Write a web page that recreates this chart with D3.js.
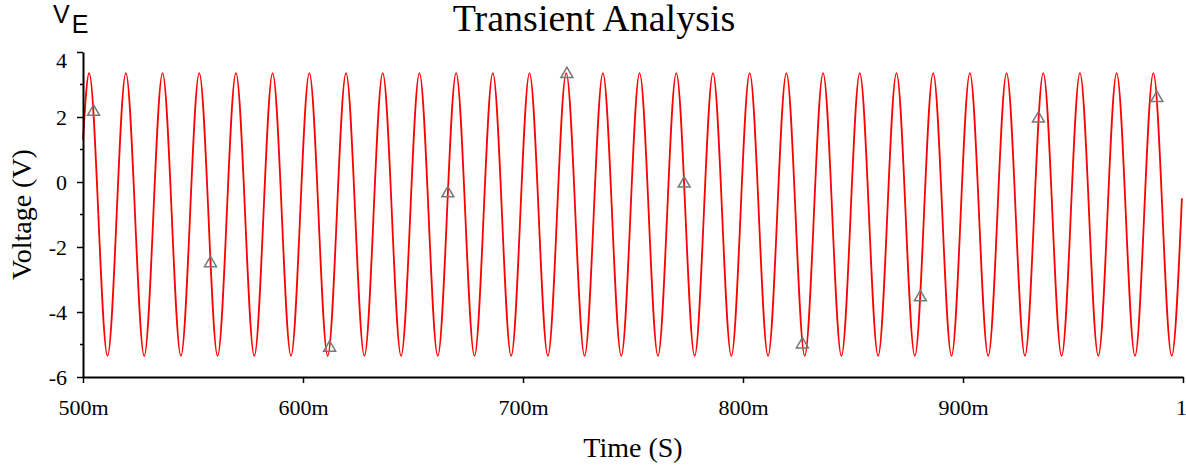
<!DOCTYPE html>
<html>
<head>
<meta charset="utf-8">
<script src="https://cdn.jsdelivr.net/npm/d3@7/dist/d3.min.js"></script>
<style>
  html, body { margin: 0; padding: 0; background: #fff; }
  svg { display: block; }
  .serif { font-family: "Liberation Serif", "Times New Roman", serif; }
</style>
</head>
<body>
<svg id="chart" width="1186" height="465"></svg>
<script>
// ---- Data (times in ms, voltages in V) ----
const startPoint = [500.0, 1.3];
const endPoint = [999.5, -0.5];

const peakT = [502.80, 519.48, 536.16, 552.84, 569.52, 586.20, 602.88, 619.56, 636.24, 652.92,
               669.60, 686.28, 702.96, 719.64, 736.32, 753.00, 769.68, 786.36, 803.04, 819.72,
               836.40, 853.08, 869.76, 886.44, 903.12, 919.80, 936.48, 953.16, 969.84, 986.52];
const peakV = [3.35, 3.35, 3.35, 3.35, 3.35, 3.35, 3.35, 3.35, 3.35, 3.35,
               3.35, 3.35, 3.35, 3.35, 3.35, 3.35, 3.35, 3.35, 3.35, 3.35,
               3.35, 3.35, 3.35, 3.35, 3.35, 3.35, 3.35, 3.35, 3.35, 3.35];

const troughT = [511.14, 527.82, 544.50, 561.18, 577.86, 594.54, 611.22, 627.90, 644.58, 661.26,
                 677.94, 694.62, 711.30, 727.98, 744.66, 761.34, 778.02, 794.70, 811.38, 828.06,
                 844.74, 861.42, 878.10, 894.78, 911.46, 928.14, 944.82, 961.50, 978.18, 994.86];
const troughV = [-5.35, -5.35, -5.35, -5.35, -5.35, -5.35, -5.35, -5.35, -5.35, -5.35,
                 -5.35, -5.35, -5.35, -5.35, -5.35, -5.35, -5.35, -5.35, -5.35, -5.35,
                 -5.35, -5.35, -5.35, -5.35, -5.35, -5.35, -5.35, -5.35, -5.35, -5.35];

const fallCrossT = [506.97, 523.65, 540.33, 557.01, 573.69, 590.37, 607.05, 623.73, 640.41, 657.09,
                    673.77, 690.45, 707.13, 723.81, 740.49, 757.17, 773.85, 790.53, 807.21, 823.89,
                    840.57, 857.25, 873.93, 890.61, 907.29, 923.97, 940.65, 957.33, 974.01, 990.69];
const riseCrossT = [515.31, 531.99, 548.67, 565.35, 582.03, 598.71, 615.39, 632.07, 648.75, 665.43,
                    682.11, 698.79, 715.47, 732.15, 748.83, 765.51, 782.19, 798.87, 815.55, 832.23,
                    848.91, 865.59, 882.27, 898.95, 915.63, 932.31, 948.99, 965.67, 982.35];
const crossV = -1.0;

const markerT = [504.8, 557.95, 612.1, 665.83, 719.95, 773.27, 826.99, 880.61, 934.29, 988.12];
const markerV = [2.16, -2.5, -5.1, -0.35, 3.32, -0.05, -5.0, -3.55, 1.95, 2.58];

const xTickValues = [0.5, 0.6, 0.7, 0.8, 0.9, 1.0];
const xTickLabels = ["500m", "600m", "700m", "800m", "900m", "1"];
const yMajorTicks = [-6, -4, -2, 0, 2, 4];
const yMinorTicks = [-5, -3, -1, 1, 3];

// ---- Build table ----
const pts = [startPoint, endPoint];
peakT.forEach((t, i) => pts.push([t, peakV[i]]));
troughT.forEach((t, i) => pts.push([t, troughV[i]]));
fallCrossT.forEach(t => pts.push([t, crossV]));
riseCrossT.forEach(t => pts.push([t, crossV]));
pts.sort((a, b) => a[0] - b[0]);
const markers = markerT.map((t, i) => [t, markerV[i]]);

// split: body runs between midline crossings (natural spline), ends use monotone
const bodyStart = fallCrossT[0], bodyEnd = fallCrossT[fallCrossT.length - 1];
const headPts = pts.filter(d => d[0] <= bodyStart);
const bodyPts = pts.filter(d => d[0] >= bodyStart && d[0] <= bodyEnd);
const tailPts = pts.filter(d => d[0] >= bodyEnd);

// ---- Layout ----
const svg = d3.select("#chart");
const plotL = 83, plotR = 1183, plotT = 52, plotB = 377;

const x = d3.scaleLinear().domain([0.5, 1.0]).range([plotL, plotR]);
const y = d3.scaleLinear().domain([-6, 4]).range([plotB, plotT]);

// Curve
const lineNat = d3.line()
  .x(d => x(d[0] / 1000))
  .y(d => y(d[1]))
  .curve(d3.curveNatural);
const lineMono = d3.line()
  .x(d => x(d[0] / 1000))
  .y(d => y(d[1]))
  .curve(d3.curveMonotoneX);

const gCurve = svg.append("g")
  .attr("fill", "none")
  .attr("stroke", "#ff0000")
  .attr("stroke-width", 1.8)
  .attr("stroke-linejoin", "round");
gCurve.append("path").datum(headPts).attr("d", lineMono);
gCurve.append("path").datum(bodyPts).attr("d", lineNat);
gCurve.append("path").datum(tailPts).attr("d", lineMono);

// Markers (triangles)
const tri = d3.symbol().type(d3.symbolTriangle).size(62);
svg.append("g")
  .selectAll("path")
  .data(markers)
  .join("path")
  .attr("transform", d => `translate(${x(d[0] / 1000)},${y(d[1])})`)
  .attr("d", tri)
  .attr("fill", "none")
  .attr("stroke", "#777777")
  .attr("stroke-width", 1.5);

// Y axis
const yAxis = d3.axisLeft(y)
  .tickValues(yMajorTicks)
  .tickFormat(d3.format("d"))
  .tickSize(6)
  .tickSizeOuter(0)
  .tickPadding(10);
const gy = svg.append("g").attr("transform", `translate(${plotL},0)`).call(yAxis);
gy.select(".domain").attr("stroke", "#000").attr("stroke-width", 2);
gy.selectAll(".tick line").attr("stroke", "#000").attr("stroke-width", 1.5);
gy.selectAll(".tick text")
  .attr("class", "serif")
  .style("font-size", "22px")
  .attr("fill", "#000")
  .text(d => d < 0 ? "-" + Math.abs(d) : String(d))
  .attr("dy", d => d === 4 ? "0.7em" : "0.32em");
gy.selectAll(".minor")
  .data(yMinorTicks)
  .join("line")
  .attr("class", "minor")
  .attr("x1", -3).attr("x2", 0)
  .attr("y1", d => y(d)).attr("y2", d => y(d))
  .attr("stroke", "#000").attr("stroke-width", 1.5);

// X axis
const xAxis = d3.axisBottom(x)
  .tickValues(xTickValues)
  .tickFormat((d, i) => xTickLabels[i])
  .tickSize(6)
  .tickSizeOuter(0)
  .tickPadding(16);
const gx = svg.append("g").attr("transform", `translate(0,${plotB})`).call(xAxis);
gx.select(".domain").attr("stroke", "#000").attr("stroke-width", 2);
gx.selectAll(".tick line").attr("stroke", "#000").attr("stroke-width", 1.5);
gx.selectAll(".tick text")
  .attr("class", "serif")
  .style("font-size", "22px")
  .attr("fill", "#000")
  .attr("dx", (d, i) => i === xTickValues.length - 1 ? -2 : 0);

// Title
svg.append("text")
  .attr("class", "serif")
  .attr("x", 594).attr("y", 31)
  .attr("text-anchor", "middle")
  .style("font-size", "38px")
  .attr("fill", "#000")
  .text("Transient Analysis");

// Axis titles
svg.append("text")
  .attr("class", "serif")
  .attr("x", (plotL + plotR) / 2).attr("y", 457)
  .attr("text-anchor", "middle")
  .style("font-size", "28px")
  .attr("fill", "#000")
  .text("Time (S)");

svg.append("text")
  .attr("class", "serif")
  .attr("transform", `translate(31,${(plotT + plotB) / 2}) rotate(-90)`)
  .attr("text-anchor", "middle")
  .style("font-size", "28px")
  .attr("fill", "#000")
  .text("Voltage (V)");

// Trace name V_E
const ve = svg.append("text")
  .attr("x", 53).attr("y", 23)
  .style("font-family", "'Liberation Sans', Arial, sans-serif")
  .style("font-size", "25px")
  .attr("fill", "#000");
ve.append("tspan").text("V");
ve.append("tspan").attr("dx", 2).attr("dy", 10).text("E");
</script>
</body>
</html>
